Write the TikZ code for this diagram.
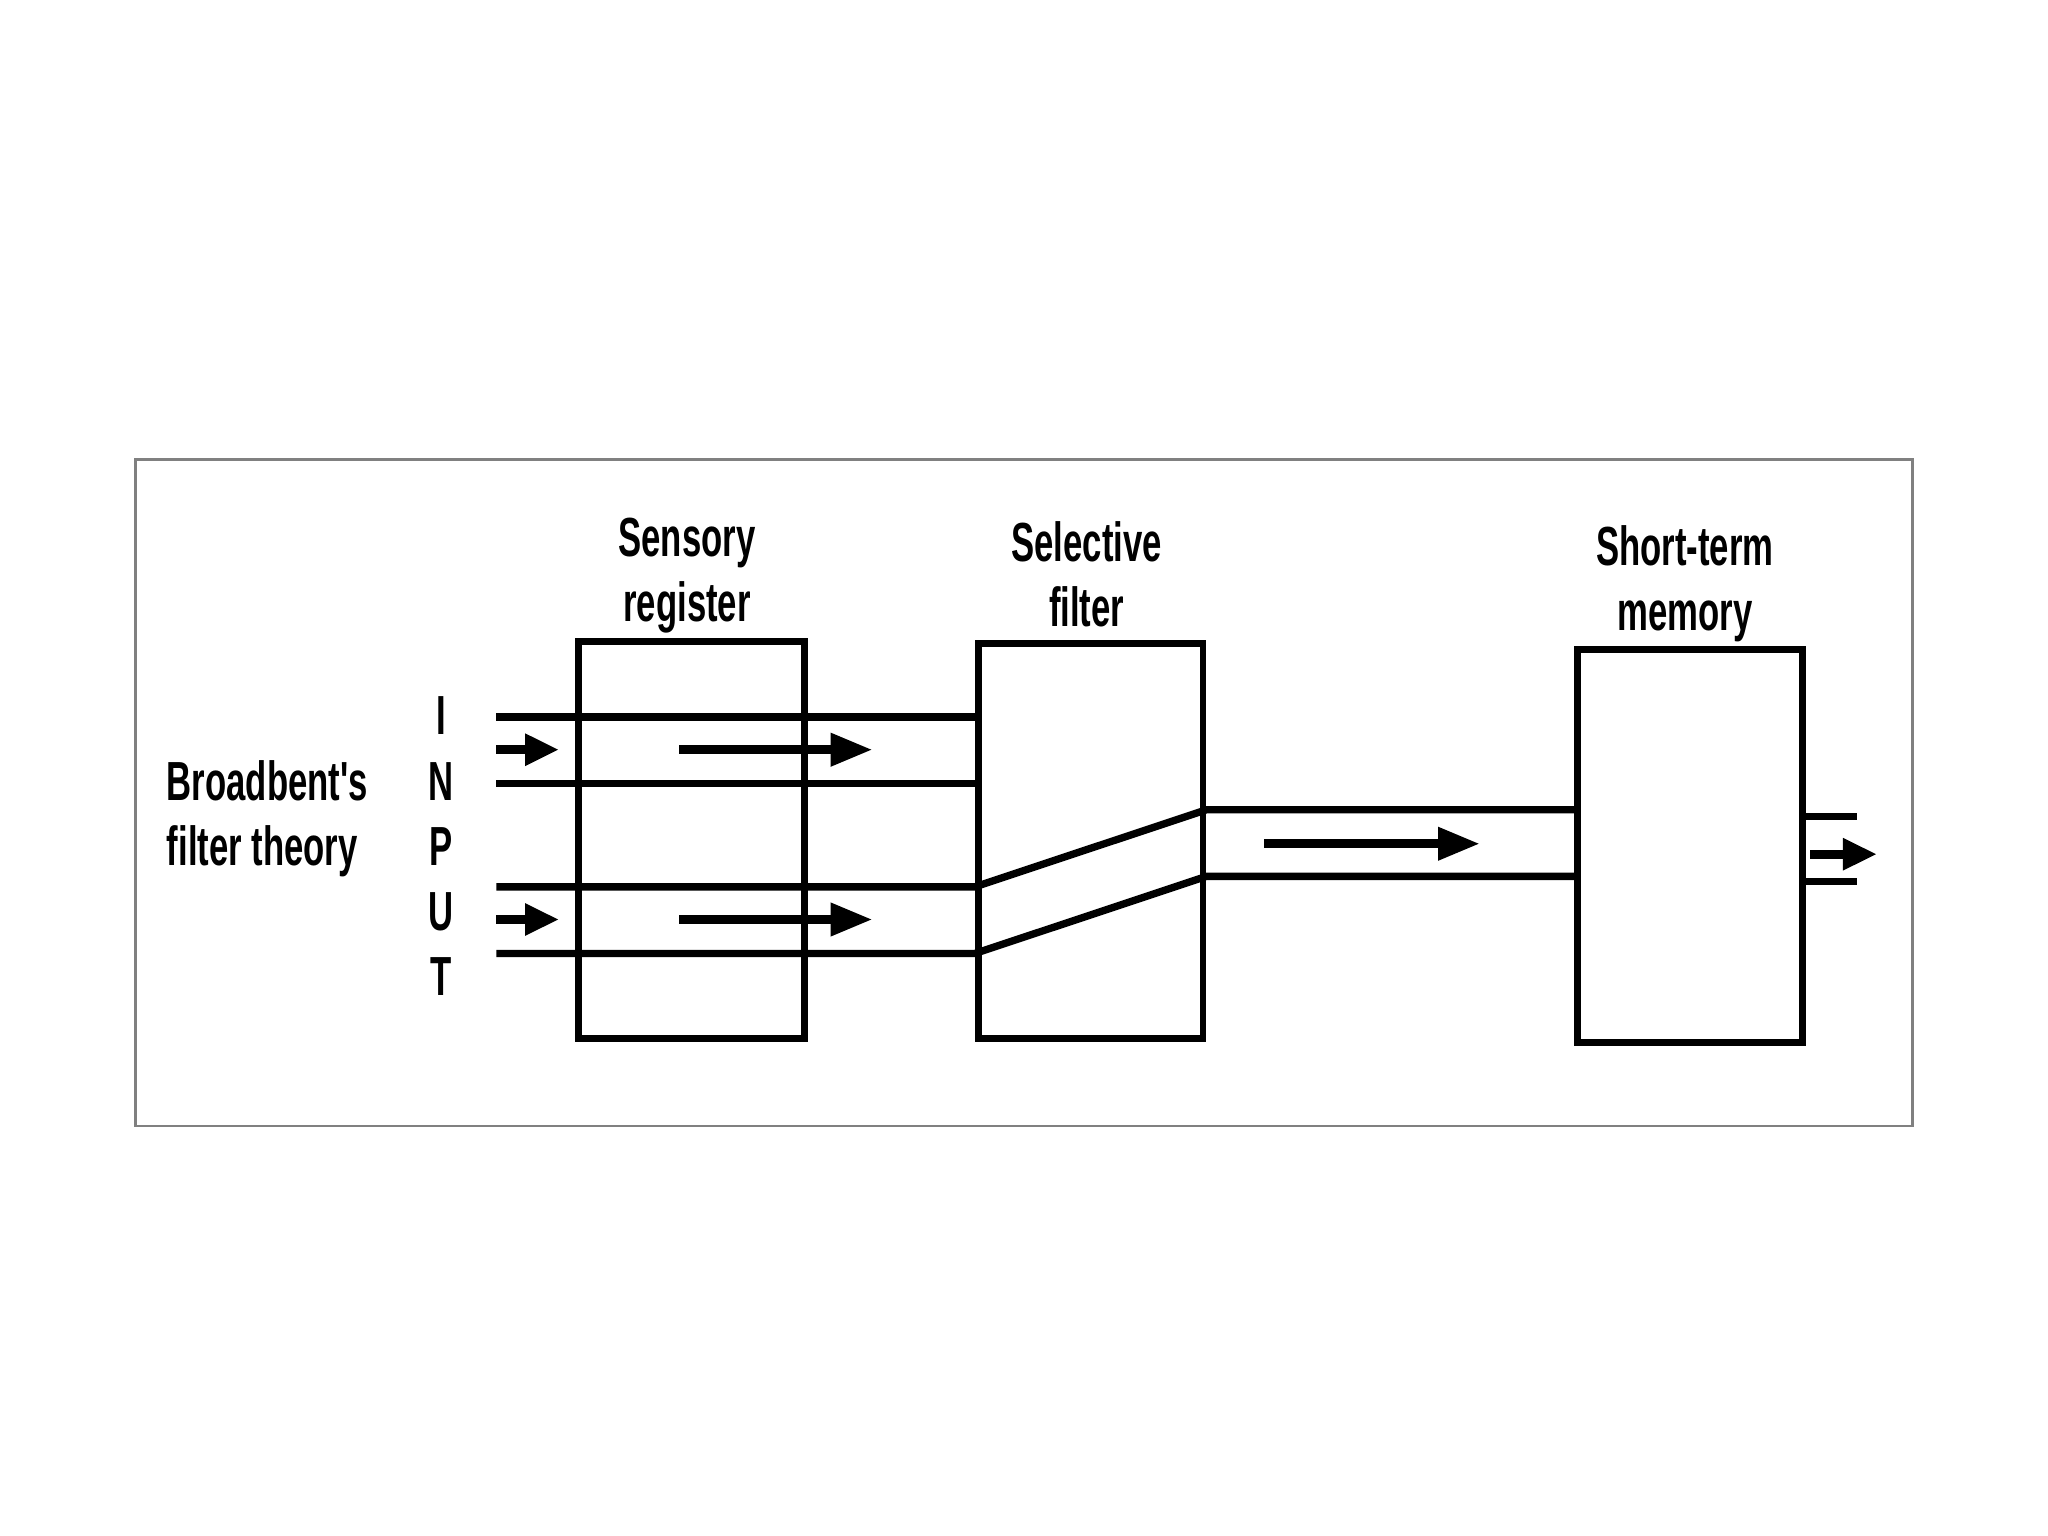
\documentclass[tikz,border=0pt]{standalone}
\usepackage{fontspec}
\newfontfamily\cond{Liberation Sans}[FakeStretch=0.63]
\usetikzlibrary{arrows.meta}
\begin{document}
\begin{tikzpicture}[
  every node/.style={font=\cond\bfseries\fontsize{12}{14.2}\selectfont},
  stagebox/.style={draw, line width=1.5pt, inner sep=0pt},
  chan/.style={line width=1.6pt},
  flow/.style={line width=1.9pt, -{Triangle[length=0.32cm,width=0.24cm]}},
  smallflow/.style={line width=1.9pt, -{Triangle[length=0.26cm,width=0.23cm]}},
  lbl/.style={align=center, inner sep=0pt}
]
\useasboundingbox (0,0) rectangle (15.68,-11.76);
\fill[white] (0,0) rectangle (15.68,-11.76);
% frame
\node[draw=gray, line width=0.6pt, minimum width=13.60cm, minimum height=5.10cm, inner sep=0pt] (frame) at (7.84,-6.07) {};
% boxes
\node[stagebox, minimum width=1.73cm, minimum height=3.04cm] (sr) at (5.295,-6.43) {};
\node[stagebox, minimum width=1.72cm, minimum height=3.02cm] (sf) at (8.35,-6.44) {};
\node[stagebox, minimum width=1.72cm, minimum height=3.01cm] (stm) at (12.94,-6.475) {};
% labels
\node[lbl] (srl) at (5.26,-4.41) {Sensory\\register};
\node[lbl] (sfl) at (8.32,-4.40) {Selective\\filter};
\node[lbl] (stml) at (12.90,-4.47) {Short-term\\memory};
\node[lbl, align=left, anchor=west] (title) at (1.27,-6.27) {Broadbent's\\filter theory};
\node[lbl, align=center] (input) at (3.38,-6.48) {I\\N\\P\\U\\T};
% free ends
\coordinate (a1) at (3.80,-5.49);
\coordinate (a2) at (3.80,-6.00);
\coordinate (b1) at (3.80,-6.79);
\coordinate (b2) at (3.80,-7.30);
\coordinate (o1) at (14.22,-6.25);
\coordinate (o2) at (14.22,-6.75);
% channels
\draw[chan] (a1) -- (a1 -| sf.west);
\draw[chan] (a2) -- (a2 -| sf.west);
\draw[chan] (b1) -- (b1 -| sf.west) -- (sf.east |- 0,-6.20) -- (stm.west |- 0,-6.20);
\draw[chan] (b2) -- (b2 -| sf.west) -- (sf.east |- 0,-6.71) -- (stm.west |- 0,-6.71);
\draw[chan] (stm.east |- o1) -- (o1);
\draw[chan] (stm.east |- o2) -- (o2);
% arrows
\coordinate (i1s) at (3.80,-5.74); \coordinate (i1e) at (4.28,-5.74);
\coordinate (i2s) at (3.80,-7.04); \coordinate (i2e) at (4.28,-7.04);
\coordinate (r1s) at (5.20,-5.74); \coordinate (r1e) at (6.68,-5.74);
\coordinate (r2s) at (5.20,-7.04); \coordinate (r2e) at (6.68,-7.04);
\coordinate (ms) at (9.68,-6.46); \coordinate (me) at (11.33,-6.46);
\coordinate (os) at (13.86,-6.54); \coordinate (oe) at (14.37,-6.54);
\draw[smallflow] (i1s) -- (i1e);
\draw[smallflow] (i2s) -- (i2e);
\draw[flow] (r1s) -- (r1e);
\draw[flow] (r2s) -- (r2e);
\draw[flow] (ms) -- (me);
\draw[smallflow] (os) -- (oe);
\end{tikzpicture}
\end{document}
